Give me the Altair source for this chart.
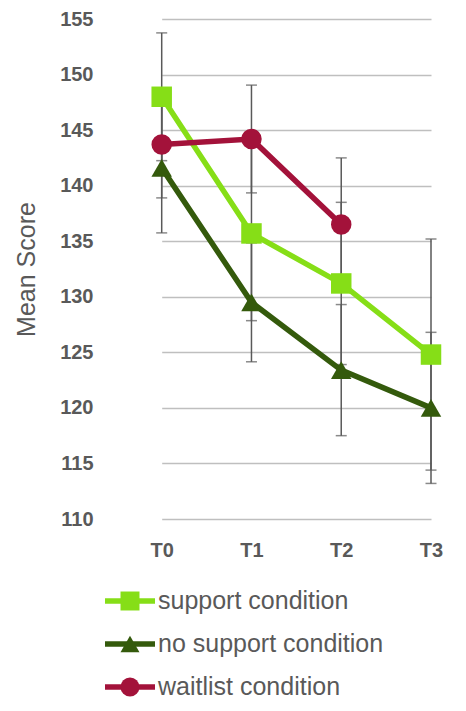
import altair as alt
import pandas as pd

times = ["T0", "T1", "T2", "T3"]
series_names = ["support condition", "no support condition", "waitlist condition"]
support_mean = [148.0, 135.7, 131.2, 124.8]
support_err = [5.75, 7.85, 7.3, 10.4]
nosupport_mean = [141.6, 129.5, 123.4, 120.0]
nosupport_err = [5.85, 5.35, 5.9, 6.8]
waitlist_mean = [143.7, 144.2, 136.5]
waitlist_err = [4.8, 4.85, 6.0]
y_ticks = [110, 115, 120, 125, 130, 135, 140, 145, 150, 155]

colors = ["#86DE17", "#345A0C", "#A3123A"]
shapes = ["square", "triangle-up", "circle"]
FONT = "Liberation Sans, Arial, sans-serif"
GREY = "#595959"

rows = []
for name, means, errs in zip(series_names,
                             [support_mean, nosupport_mean, waitlist_mean],
                             [support_err, nosupport_err, waitlist_err]):
    for t, m, e in zip(times, means, errs):
        rows.append({"series": name, "time": t, "mean": m, "lo": m - e, "hi": m + e})
df = pd.DataFrame(rows)
leg_df = pd.DataFrame({"series": series_names})

X = alt.X("time:N", sort=times,
          scale=alt.Scale(type="point", domain=times, range=[44.7, 314], padding=0),
          axis=alt.Axis(title=None, labelAngle=0, ticks=False, tickSize=0, domain=False,
                        grid=False, labelFont=FONT, labelFontSize=20, labelFontWeight="bold",
                        labelColor=GREY, labelPadding=21))
yscale = alt.Scale(domain=[110, 155], nice=False, zero=False)
Y = alt.Y("mean:Q", scale=yscale,
          axis=alt.Axis(title="Mean Score", values=y_ticks, ticks=False, tickSize=0, domain=False,
                        grid=True, gridColor="#BFBFBF", gridWidth=1.4,
                        labelFont=FONT, labelFontSize=20, labelFontWeight="bold",
                        labelColor=GREY, labelPadding=24,
                        titleFont=FONT, titleFontSize=25, titleFontWeight="normal",
                        titleColor=GREY, titleAngle=-90, titleX=-91, titleY=250,
                        titleAlign="center", titleBaseline="middle"))
color = alt.Color("series:N", scale=alt.Scale(domain=series_names, range=colors), legend=None)
shape = alt.Shape("series:N", scale=alt.Scale(domain=series_names, range=shapes), legend=None)

base = alt.Chart(df)
err = base.mark_rule(color=GREY, strokeWidth=1.5).encode(
    x=X, y=alt.Y("lo:Q", scale=yscale), y2="hi:Q")
cap_lo = base.mark_tick(orient="horizontal", size=11, thickness=1.5, color=GREY).encode(
    x=X, y=alt.Y("lo:Q", scale=yscale))
cap_hi = base.mark_tick(orient="horizontal", size=11, thickness=1.5, color=GREY).encode(
    x=X, y=alt.Y("hi:Q", scale=yscale))

layers = [err, cap_lo, cap_hi]
for name in series_names:
    sub = base.transform_filter(alt.datum.series == name)
    layers.append(sub.mark_line(strokeWidth=5.5).encode(x=X, y=Y, color=color))
    layers.append(sub.mark_point(filled=True, opacity=1, size=420).encode(
        x=X, y=Y, color=color, shape=shape))

main = alt.layer(*layers)

Yleg = alt.Y("series:N", axis=None,
             scale=alt.Scale(type="point", domain=series_names, range=[582, 668], padding=0))
lb = alt.Chart(leg_df)
leg_rule = lb.mark_rule(strokeWidth=5.5).encode(
    x=alt.value(-12), x2=alt.value(38), y=Yleg, color=color)
leg_pt = lb.mark_point(filled=True, opacity=1, size=360).encode(
    x=alt.value(13), y=Yleg, color=color, shape=shape)
leg_txt = lb.mark_text(align="left", baseline="middle", fontSize=25, font=FONT, color=GREY).encode(
    x=alt.value(41), y=Yleg, text="series:N")
legend = alt.layer(leg_rule, leg_pt, leg_txt)

chart = alt.layer(main, legend).resolve_scale(y="independent").properties(
    width=341, height=500,
    autosize=alt.AutoSizeParams(type="none"),
    padding={"left": 109, "top": 11, "right": 0, "bottom": 184},
).configure_view(stroke=None)

chart.save("out.html", embed_options={"renderer": "svg", "actions": False})
